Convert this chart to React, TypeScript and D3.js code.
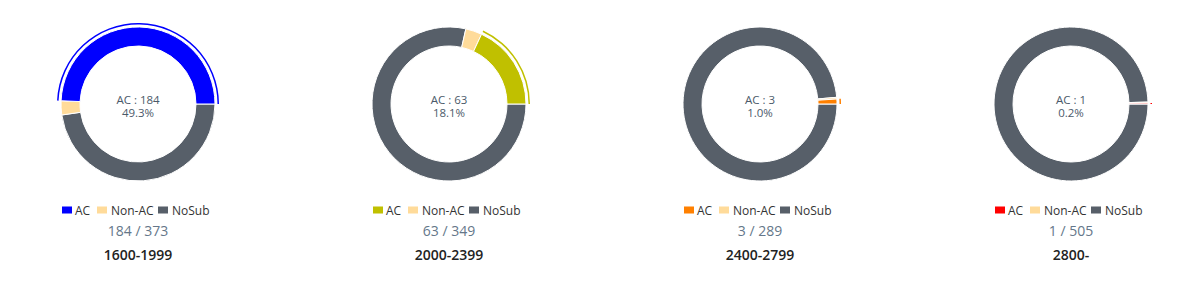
import React from "react";
import * as d3 from "d3";

const groups = ["1600-1999", "2000-2399", "2400-2799", "2800-"];
const acValues = [184, 63, 3, 1];
const nonAcValues = [11, 12, 1, 1];
const totals = [373, 349, 289, 505];
const acColors = ["#0000ff", "#c0c000", "#ff8000", "#ff0000"];
const legendLabels = ["AC", "Non-AC", "NoSub"];
const nonAcColor = "#ffdb9a";
const noSubColor = "#575f69";

const W = 1200;
const H = 289;

export default function App() {
  const xScale = d3.scaleLinear().domain([0, 3]).range([138, 1071]);
  const cy = 104;
  const rIn = 58;
  const rOut = 77;

  return (
    <svg width={W} height={H} style={{ position: "absolute", left: 0, top: 0 }} fontFamily="'Open Sans', 'Noto Sans', sans-serif">
      <rect width={W} height={H} fill="#fff" />
      {groups.map((g, i) => {
        const cx = xScale(i);
        const ac = acValues[i];
        const nonAc = nonAcValues[i];
        const noSub = totals[i] - ac - nonAc;
        const data = [
          { key: "AC", v: ac, c: acColors[i] },
          { key: "Non-AC", v: nonAc, c: nonAcColor },
          { key: "NoSub", v: noSub, c: noSubColor },
        ];
        // start at 3 o'clock, counter-clockwise
        const pie = d3
          .pie<any>()
          .value((d) => d.v)
          .sort(null)
          .startAngle(Math.PI / 2)
          .endAngle(Math.PI / 2 - 2 * Math.PI);
        const arcs = pie(data);
        const arc = d3.arc<any>().innerRadius(rIn).outerRadius(rOut);
        const hiArc = d3.arc<any>().innerRadius(rOut + 2.5).outerRadius(rOut + 4);
        const colLegendSq = [-76, -41, 20];
        const colLegendTx = [-63, -27, 34];
        const legendColors = [acColors[i], nonAcColor, noSubColor];
        const pct = ((ac / totals[i]) * 100).toFixed(1) + "%";
        return (
          <g key={g}>
            <g transform={`translate(${cx},${cy})`}>
              {arcs
                .slice()
                .reverse()
                .map((a) => (
                  <path key={a.data.key} d={arc(a) || ""} fill={a.data.c} stroke="#fff" strokeWidth={1} strokeLinejoin="round" />
                ))}
              <path d={hiArc(arcs[0]) || ""} fill={acColors[i]} />
              <text textAnchor="middle" y={0} fontSize={11.5} fill="#4b5a6a">
                {`AC : ${ac}`}
              </text>
              <text textAnchor="middle" y={13} fontSize={11.5} fill="#4b5a6a">
                {pct}
              </text>
            </g>
            {legendLabels.map((l, j) => (
              <g key={l}>
                <rect x={cx + colLegendSq[j]} y={206.5} width={10} height={7} fill={legendColors[j]} />
                <text x={cx + colLegendTx[j]} y={214.5} fontSize={12} fill="#333">
                  {l}
                </text>
              </g>
            ))}
            <text x={cx} y={236} textAnchor="middle" fontSize={14} fill="#65778a">
              {`${ac} / ${totals[i]}`}
            </text>
            <text x={cx} y={260} textAnchor="middle" fontSize={14} fontWeight={600} fill="#222">
              {g}
            </text>
          </g>
        );
      })}
    </svg>
  );
}
